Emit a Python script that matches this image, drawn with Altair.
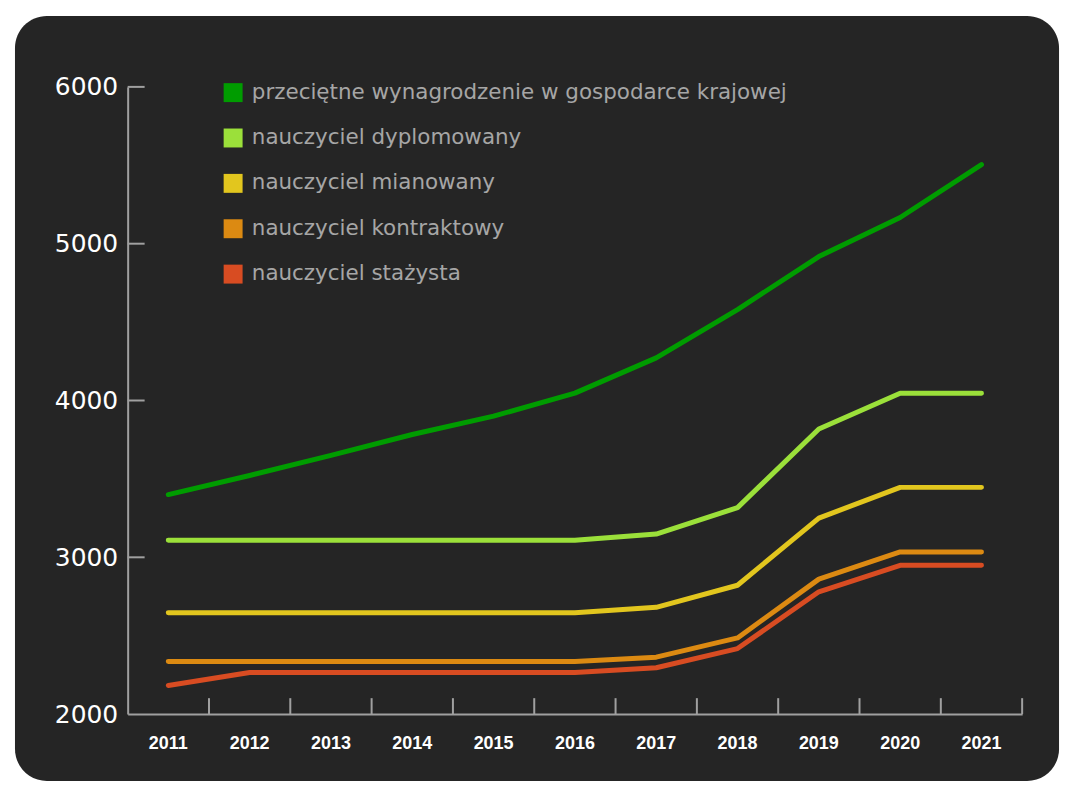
import altair as alt
import pandas as pd

years = ["2011", "2012", "2013", "2014", "2015", "2016", "2017", "2018", "2019", "2020", "2021"]

series_names = [
    "przeciętne wynagrodzenie w gospodarce krajowej",
    "nauczyciel dyplomowany",
    "nauczyciel mianowany",
    "nauczyciel kontraktowy",
    "nauczyciel stażysta",
]
series_colors = ["#009c00", "#9be03a", "#e2c61e", "#dc8a12", "#d84c22"]

przecietne = [3400, 3522, 3650, 3783, 3900, 4047, 4272, 4580, 4918, 5167, 5504]
dyplomowany = [3109, 3109, 3109, 3109, 3109, 3109, 3148, 3317, 3818, 4046, 4046]
mianowany = [2647, 2647, 2647, 2647, 2647, 2647, 2681, 2822, 3250, 3446, 3446]
kontraktowy = [2335, 2335, 2335, 2335, 2335, 2335, 2363, 2486, 2861, 3034, 3034]
stazysta = [2183, 2265, 2265, 2265, 2265, 2265, 2296, 2418, 2780, 2949, 2949]

y_ticks = [2000, 3000, 4000, 5000, 6000]
y_inner_ticks = [3000, 4000, 5000, 6000]

rows = []
for name, vals in zip(series_names, [przecietne, dyplomowany, mianowany, kontraktowy, stazysta]):
    for yr, v in zip(years, vals):
        rows.append({"year": yr, "series": name, "value": v})
df = pd.DataFrame(rows)

W, H = 897, 629
AXIS_COLOR = "#a0a0a0"

xscale = alt.Scale(type="band", domain=years, paddingInner=0, paddingOuter=0)
yscale = alt.Scale(domain=[2000, 6000], nice=False, zero=False)

xaxis = alt.Axis(
    title=None, labelAngle=0, ticks=False, grid=False, zindex=1,
    domainColor=AXIS_COLOR, domainWidth=2,
    labelColor="white", labelFont="Liberation Sans",
    labelFontWeight="bold", labelFontSize=18, labelPadding=20,
)
yaxis = alt.Axis(
    title=None, values=y_ticks, format="d", ticks=False, grid=False, zindex=1,
    domainColor=AXIS_COLOR, domainWidth=2,
    labelColor="white", labelFont="DejaVu Sans",
    labelFontSize=25, labelPadding=10,
)

panel = alt.Chart(pd.DataFrame({"k": [0]})).mark_rect(
    color="#252525", cornerRadius=32
).encode(
    x=alt.value(-113), x2=alt.value(934), y=alt.value(-71), y2=alt.value(696)
)

lines = alt.Chart(df).mark_line(
    strokeWidth=5, strokeCap="round", strokeJoin="round"
).encode(
    x=alt.X("year:O", scale=xscale, bandPosition=0.5, axis=xaxis),
    y=alt.Y("value:Q", scale=yscale, axis=yaxis),
    color=alt.Color(
        "series:N",
        scale=alt.Scale(domain=series_names, range=series_colors),
        legend=alt.Legend(
            title=None, orient="none", legendX=95, legendY=-5,
            direction="vertical",
            symbolType="square", symbolSize=81, symbolStrokeWidth=10,
            labelFont="DejaVu Sans", labelFontSize=21.5, labelColor="#a6a6a6",
            labelLimit=800, rowPadding=-4.5, labelOffset=8,
        ),
    ),
)

xticks = alt.Chart(pd.DataFrame({"year": years})).mark_rule(
    color=AXIS_COLOR, strokeWidth=2
).encode(
    x=alt.X("year:O", scale=xscale, bandPosition=1, axis=xaxis),
    y=alt.value(H - 16),
    y2=alt.value(H),
)

yticks = alt.Chart(pd.DataFrame({"value": y_inner_ticks})).mark_rule(
    color=AXIS_COLOR, strokeWidth=2
).encode(
    y=alt.Y("value:Q", scale=yscale, axis=yaxis),
    x=alt.value(0),
    x2=alt.value(17),
)

chart = alt.layer(panel, lines, xticks, yticks).properties(
    width=W,
    height=H,
    padding={"left": 120, "top": 78, "right": 50, "bottom": 80},
    autosize=alt.AutoSizeParams(type="none"),
    background="white",
).configure_view(stroke=None)

chart.save("out.html", embed_options={"renderer": "svg", "actions": False})
